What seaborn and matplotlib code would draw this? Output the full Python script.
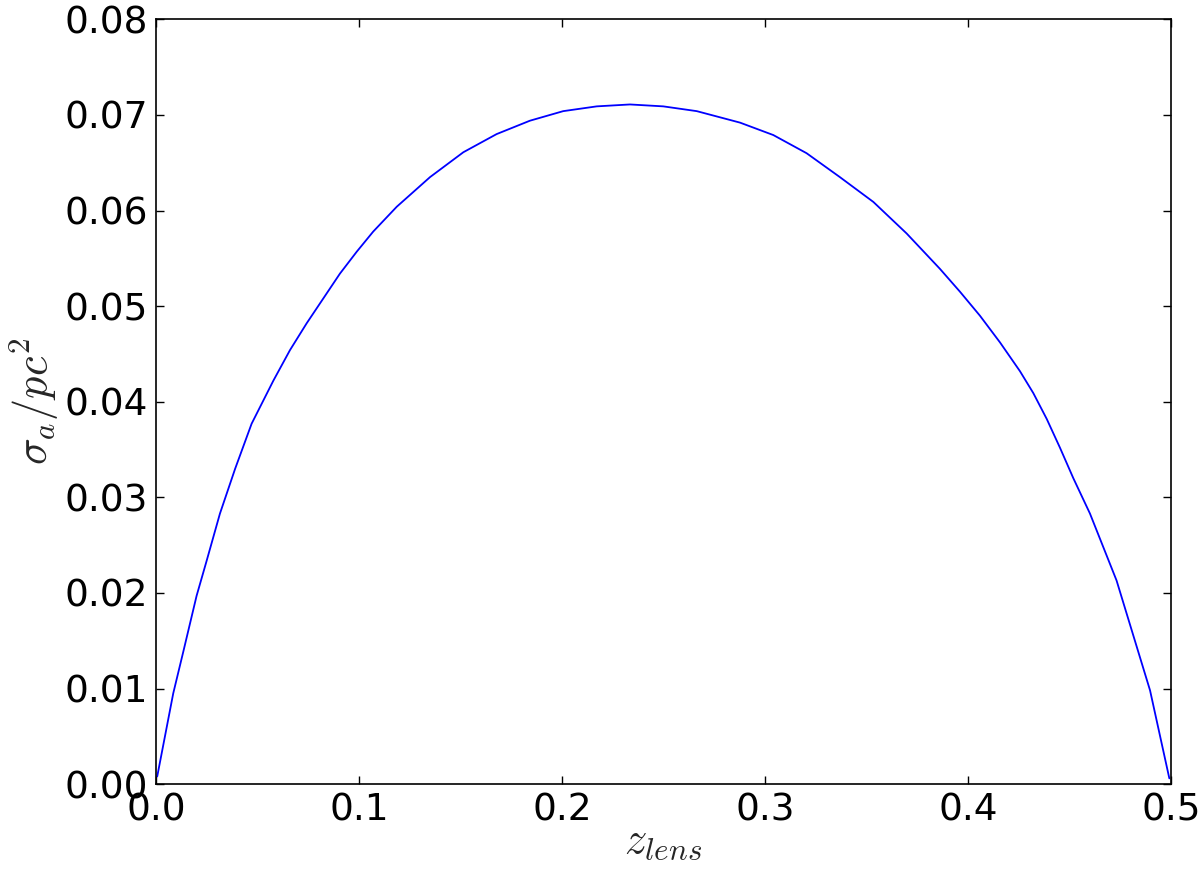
import matplotlib
matplotlib.use("Agg")
import matplotlib.pyplot as plt
import pandas as pd
import seaborn as sns

# values
z_lens = [0.0006, 0.0085, 0.0135, 0.0200, 0.0250, 0.0315, 0.0390, 0.0471, 0.0578,
          0.0660, 0.0742, 0.0824, 0.0906, 0.0989, 0.1070, 0.1186, 0.1350, 0.1514,
          0.1678, 0.1842, 0.2006, 0.2171, 0.2335, 0.2499, 0.2664, 0.2877, 0.3041,
          0.3205, 0.3369, 0.3534, 0.3698, 0.3862, 0.3961, 0.4059, 0.4158, 0.4256,
          0.4322, 0.4388, 0.4453, 0.4519, 0.4601, 0.4732, 0.4831, 0.4897, 0.4992]
sigma_a = [0.0008, 0.0095, 0.0139, 0.0197, 0.0234, 0.0283, 0.0330, 0.0377, 0.0422,
           0.0454, 0.0482, 0.0508, 0.0534, 0.0557, 0.0578, 0.0604, 0.0635, 0.0661,
           0.0680, 0.0694, 0.0704, 0.0709, 0.0711, 0.0709, 0.0704, 0.0692, 0.0679,
           0.0660, 0.0635, 0.0609, 0.0576, 0.0539, 0.0515, 0.0490, 0.0462, 0.0432,
           0.0409, 0.0382, 0.0352, 0.0320, 0.0283, 0.0213, 0.0144, 0.0098, 0.0006]

df = pd.DataFrame({"z": z_lens, "sigma": sigma_a})

sns.set_style("ticks")
plt.rcParams["font.family"] = ["DejaVu Sans"]
plt.rcParams["mathtext.fontset"] = "cm"

fig = plt.figure(figsize=(12, 8.81), dpi=100)
ax = fig.add_axes([0.13, 0.110, 0.8458, 0.868])

sns.lineplot(data=df, x="z", y="sigma", ax=ax, color="blue", linewidth=1.3,
             sort=False, estimator=None)

ax.set_xlim(0, 0.5)
ax.set_ylim(0, 0.08)
ax.set_xticks([0.0, 0.1, 0.2, 0.3, 0.4, 0.5])
ax.set_yticks([0.0, 0.01, 0.02, 0.03, 0.04, 0.05, 0.06, 0.07, 0.08])
ax.set_xticklabels(["0.0", "0.1", "0.2", "0.3", "0.4", "0.5"])
ax.set_yticklabels(["0.00", "0.01", "0.02", "0.03", "0.04", "0.05", "0.06", "0.07", "0.08"])
ax.tick_params(direction="in", length=6, width=1, labelsize=27, top=True, right=True,
               colors="black", pad=6)
for s in ax.spines.values():
    s.set_visible(True)
    s.set_color("black")
    s.set_linewidth(1.2)

ax.set_xlabel(r"$z_{lens}$", fontsize=32, labelpad=-7)
ax.set_ylabel(r"$\sigma_a/pc^2$", fontsize=32, labelpad=2)

fig.savefig("out.png", dpi=100)
